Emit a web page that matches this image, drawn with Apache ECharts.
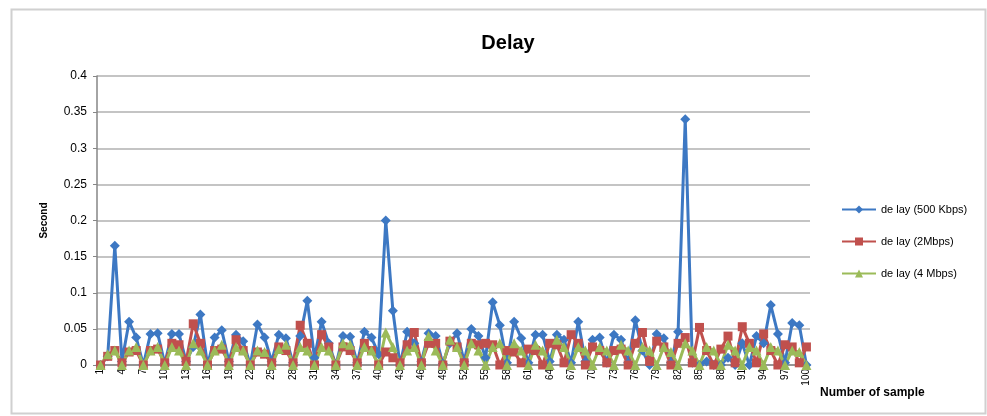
<!DOCTYPE html>
<html>
<head>
<meta charset="utf-8">
<title>Delay</title>
<script src="https://cdn.jsdelivr.net/npm/echarts@6/dist/echarts.min.js"></script>
<style>
  html, body { margin: 0; padding: 0; background: #fff; }
  #container { width: 987px; height: 416px; }
</style>
</head>
<body>
<div id="container"></div>
<script>
// sample numbers 1..100
var samples = [];
for (var i = 1; i <= 100; i++) samples.push(String(i));

var delay500k = [
  0, 0.012, 0.165, 0.005, 0.06, 0.038, 0, 0.043, 0.044, 0.002,
  0.043, 0.043, 0.005, 0.025, 0.07, 0, 0.038, 0.048, 0.005, 0.042,
  0.033, 0, 0.056, 0.038, 0.005, 0.042, 0.037, 0.003, 0.04, 0.089,
  0.01, 0.06, 0.03, 0, 0.04, 0.039, 0.003, 0.046, 0.038, 0.015,
  0.2, 0.075, 0, 0.046, 0.03, 0.005, 0.044, 0.04, 0.002, 0.03,
  0.044, 0.005, 0.05, 0.04, 0.01, 0.087, 0.055, 0.003, 0.06, 0.037,
  0.003, 0.042, 0.042, 0.005, 0.042, 0.035, 0.003, 0.06, 0.005, 0.035,
  0.038, 0.003, 0.042, 0.035, 0.003, 0.062, 0.02, 0, 0.043, 0.037,
  0.003, 0.046, 0.34, 0.003, 0, 0.005, 0, 0, 0.01, 0,
  0.03, 0, 0.04, 0.03, 0.083, 0.043, 0.003, 0.058, 0.055, 0
];
var delay2M = [
  0, 0.012, 0.02, 0.003, 0.018, 0.02, 0, 0.02, 0.022, 0.003,
  0.03, 0.028, 0.005, 0.057, 0.03, 0, 0.02, 0.022, 0.003, 0.035,
  0.02, 0, 0.018, 0.015, 0.003, 0.025, 0.02, 0.003, 0.055, 0.03,
  0, 0.042, 0.025, 0, 0.025, 0.02, 0.003, 0.03, 0.02, 0,
  0.018, 0.01, 0.003, 0.028, 0.045, 0.003, 0.03, 0.03, 0, 0.033,
  0.025, 0.003, 0.03, 0.028, 0.03, 0.028, 0, 0.02, 0.018, 0.003,
  0.022, 0.02, 0, 0.03, 0.028, 0.003, 0.042, 0.03, 0, 0.025,
  0.02, 0.003, 0.02, 0.022, 0, 0.03, 0.045, 0.005, 0.033, 0.025,
  0, 0.03, 0.038, 0.003, 0.052, 0.02, 0, 0.022, 0.04, 0.003,
  0.053, 0.03, 0.003, 0.043, 0.02, 0, 0.028, 0.025, 0.003, 0.025
];
var delay4M = [
  0, 0.015, 0.02, 0, 0.02, 0.025, 0, 0.02, 0.025, 0,
  0.025, 0.02, 0, 0.03, 0.02, 0, 0.02, 0.028, 0, 0.025,
  0.02, 0, 0.02, 0.018, 0, 0.022, 0.028, 0, 0.025, 0.02,
  0, 0.025, 0.02, 0, 0.03, 0.028, 0, 0.025, 0.02, 0,
  0.045, 0.025, 0, 0.02, 0.025, 0, 0.04, 0.02, 0, 0.035,
  0.025, 0, 0.03, 0.02, 0, 0.025, 0.03, 0, 0.03, 0.02,
  0, 0.028, 0.02, 0, 0.035, 0.025, 0, 0.025, 0.02, 0,
  0.025, 0.02, 0, 0.028, 0.02, 0, 0.025, 0.02, 0, 0.025,
  0.018, 0, 0.03, 0.02, 0, 0.025, 0.02, 0, 0.028, 0.02,
  0, 0.025, 0.02, 0, 0.025, 0.02, 0, 0.02, 0.018, 0
];
var seriesNames = ['de lay (500 Kbps)', 'de lay (2Mbps)', 'de lay (4 Mbps)'];
var seriesColors = ['#3d78c3', '#c0504d', '#9bbb59'];
var seriesSymbols = ['diamond', 'rect', 'triangle'];
var yTicks = [0, 0.05, 0.1, 0.15, 0.2, 0.25, 0.3, 0.35, 0.4];

var dom = document.getElementById('container');
var myChart = echarts.init(dom, null, { renderer: 'canvas' });
var font = 'Liberation Sans, Arial, sans-serif';

var seriesData = [delay500k, delay2M, delay4M];
var series = seriesData.map(function (d, k) {
  return {
    name: seriesNames[k],
    type: 'line',
    data: d,
    symbol: seriesSymbols[k],
    symbolSize: k === 1 ? 9 : 10,
    showAllSymbol: true,
    lineStyle: { width: 3, color: seriesColors[k] },
    itemStyle: { color: seriesColors[k] },
    animation: false
  };
});

var option = {
  backgroundColor: '#fff',
  animation: false,
  title: {
    text: 'Delay',
    left: 503,
    top: 28,
    textAlign: 'center',
    textStyle: { fontFamily: font, fontSize: 20, fontWeight: 'bold', color: '#000' }
  },
  legend: {
    orient: 'vertical',
    left: 836,
    top: 199,
    itemGap: 21,
    itemWidth: 34,
    itemHeight: 10,
    data: seriesNames,
    textStyle: { fontFamily: font, fontSize: 11, color: '#000' }
  },
  grid: { left: 97, right: 177, top: 76, bottom: 51 },
  xAxis: {
    type: 'category',
    data: samples,
    boundaryGap: true,
    name: 'Number of sample',
    nameLocation: 'end',
    nameGap: 10,
    nameTextStyle: { fontFamily: font, fontSize: 12, fontWeight: 'bold', color: '#000', verticalAlign: 'top', padding: [22, 0, 0, 0] },
    axisLine: { lineStyle: { color: '#868686', width: 1.5 } },
    axisTick: { show: false },
    axisLabel: { interval: 2, rotate: 90, fontFamily: font, fontSize: 10, color: '#000', margin: 4 },
    splitLine: { show: false }
  },
  yAxis: {
    type: 'value',
    min: 0,
    max: 0.4,
    interval: 0.05,
    name: 'Second',
    nameLocation: 'middle',
    nameGap: 48,
    nameRotate: 90,
    nameTextStyle: { fontFamily: font, fontSize: 10, fontWeight: 'bold', color: '#000' },
    axisLine: { show: true, lineStyle: { color: '#868686', width: 1.5 } },
    axisTick: { show: true, length: 4, lineStyle: { color: '#868686' } },
    axisLabel: {
      fontFamily: font, fontSize: 12, color: '#000', margin: 10,
      formatter: function (v) {
        var t = yTicks.filter(function (y) { return Math.abs(y - v) < 1e-9; });
        return t.length ? String(t[0]) : '';
      }
    },
    splitLine: { lineStyle: { color: '#c4c4c4', width: 2 } }
  },
  graphic: [{
    type: 'rect',
    shape: { x: 11.5, y: 9.5, width: 974, height: 404 },
    style: { fill: 'none', stroke: '#d0d0d0', lineWidth: 2 },
    silent: true
  }],
  series: series
};

if (option && typeof option === 'object') {
  myChart.setOption(option, true);
}
</script>
</body>
</html>
